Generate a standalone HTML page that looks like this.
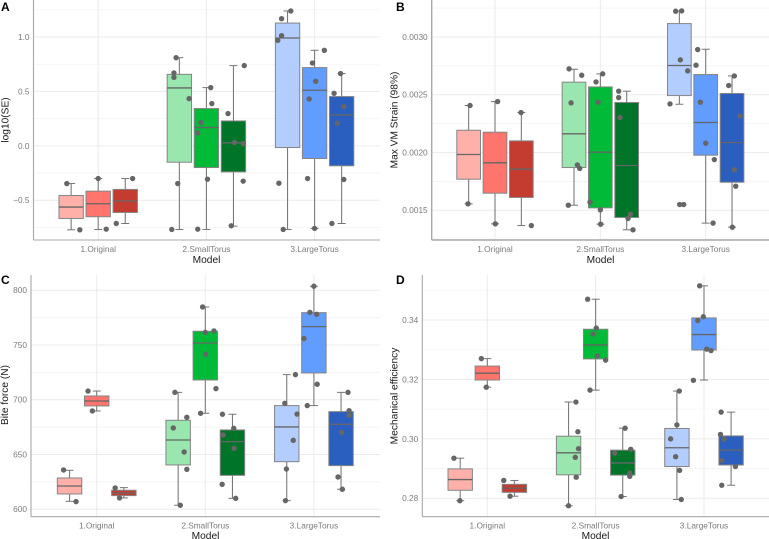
<!DOCTYPE html>
<html lang="en">
<head>
<meta charset="utf-8">
<title>Boxplots by model</title>
<style>
html,body{margin:0;padding:0;background:#fff;width:769px;height:539px;overflow:hidden}
svg{display:block;filter:blur(.3px);font-family:"Liberation Sans",sans-serif}
.tick{font-size:8.3px;fill:#7a7a7a}
.title{font-size:10.2px;fill:#1a1a1a}
.tag{font-size:12px;font-weight:bold;fill:#000}
</style>
</head>
<body>
<svg id="fig" width="769" height="539" viewBox="0 0 769 539" xmlns="http://www.w3.org/2000/svg">
  <g id="panel-a">
    <text class="tag" x="1" y="11">A</text>
    <text class="title" text-anchor="middle" transform="translate(8.5,120) rotate(-90)">log10(SE)</text>
    <text class="title" x="206.5" y="263" text-anchor="middle">Model</text>
  </g>
  <g id="panel-b">
    <text class="tag" x="396" y="11">B</text>
    <text class="title" text-anchor="middle" transform="translate(397.5,120) rotate(-90)">Max VM Strain (98%)</text>
    <text class="title" x="600.5" y="263" text-anchor="middle">Model</text>
  </g>
  <g id="panel-c">
    <text class="tag" x="1" y="284">C</text>
    <text class="title" text-anchor="middle" transform="translate(8,395) rotate(-90)">Bite force (N)</text>
    <text class="title" x="205.5" y="539" text-anchor="middle">Model</text>
  </g>
  <g id="panel-d">
    <text class="tag" x="396" y="284">D</text>
    <text class="title" text-anchor="middle" transform="translate(397.5,396) rotate(-90)">Mechanical efficiency</text>
    <text class="title" x="595.5" y="539" text-anchor="middle">Model</text>
  </g>
</svg>
<script>
const categories = ['1.Original', '2.SmallTorus', '3.LargeTorus'];
const fills = ['#FFB0A8', '#FF756D', '#C43C30', '#99E6AE', '#00BA38', '#00752A', '#B3CDFF', '#619CFF', '#2A5EBF'];

/* Panel A: log10(SE) */
const aTicks = [-0.5, 0, 0.5, 1];
const aTickLabels = ['\u22120.5', '0.0', '0.5', '1.0'];
const aLow = [-0.771, -0.768, -0.713, -0.768, -0.768, -0.737, -0.768, -0.758, -0.713];
const aQ1 = [-0.667, -0.651, -0.612, -0.15, -0.199, -0.239, -0.015, -0.116, -0.183];
const aMedian = [-0.562, -0.532, -0.505, 0.532, 0.168, 0.028, 0.991, 0.511, 0.284];
const aQ3 = [-0.456, -0.416, -0.4, 0.657, 0.343, 0.229, 1.128, 0.719, 0.453];
const aHigh = [-0.346, -0.3, -0.3, 0.81, 0.535, 0.737, 1.239, 0.878, 0.664];
const aPoints = [
  [-0.346, -0.771],
  [-0.3, -0.765],
  [-0.3, -0.713],
  [0.81, 0.67, 0.63, 0.434, -0.346, -0.768],
  [0.535, 0.388, 0.214, 0.119, -0.306, -0.765],
  [0.737, 0.297, 0.031, 0.021, -0.324, -0.734],
  [1.239, 1.168, 1.012, 0.969, -0.343, -0.768],
  [0.878, 0.761, 0.593, 0.431, -0.3, -0.758],
  [0.664, 0.483, 0.361, 0.208, -0.309, -0.713]
];
const aJitter = [
  [-0.04, 0.08],
  [0, 0.074],
  [0.068, -0.083],
  [-0.03, -0.05, -0.05, 0.09, -0.015, -0.07],
  [0.04, 0.05, -0.05, -0.08, 0.01, -0.08],
  [0.1, -0.05, 0.01, 0.09, 0.09, -0.02],
  [0.03, -0.055, -0.055, -0.09, -0.08, -0.04],
  [0.09, -0.02, 0.01, -0.05, -0.065, 0],
  [-0.01, -0.07, 0.02, -0.04, 0.02, -0.09]
];

/* Panel B: Max VM Strain (values x 1000) */
const bTicks = [1.5, 2, 2.5, 3];
const bTickLabels = ['0.0015', '0.0020', '0.0025', '0.0030'];
const bLow = [1.556, 1.383, 1.368, 1.544, 1.38, 1.331, 2.418, 1.389, 1.354];
const bQ1 = [1.769, 1.648, 1.611, 1.87, 1.521, 1.438, 2.493, 1.977, 1.743];
const bMedian = [1.983, 1.911, 1.856, 2.162, 2.003, 1.888, 2.753, 2.26, 2.087];
const bQ3 = [2.193, 2.176, 2.101, 2.609, 2.568, 2.433, 3.116, 2.675, 2.511];
const bHigh = [2.407, 2.441, 2.346, 2.721, 2.681, 2.531, 3.226, 2.894, 2.663];
const bPoints = [
  [2.407, 1.556],
  [2.441, 1.383],
  [2.346, 1.368],
  [2.724, 2.669, 2.43, 1.893, 1.862, 1.544],
  [2.681, 2.611, 2.436, 1.57, 1.504, 1.38],
  [2.531, 2.476, 2.303, 1.466, 1.429, 1.331],
  [3.223, 3.226, 2.802, 2.707, 2.421, 1.55, 1.55],
  [2.891, 2.756, 2.436, 2.081, 1.939, 1.389],
  [2.663, 2.58, 2.317, 1.85, 1.709, 1.354]
];
const bJitter = [
  [0.013, -0.006],
  [0.025, 0.003],
  [-0.003, 0.095],
  [-0.047, 0.073, -0.028, 0.032, 0.054, -0.054],
  [0.022, -0.041, -0.022, -0.098, 0, 0.003],
  [-0.076, -0.076, -0.063, 0.035, 0.013, 0.06],
  [-0.035, 0.022, 0.009, 0.079, -0.089, 0.003, 0.041],
  [-0.076, -0.092, -0.051, 0, 0.082, 0.07],
  [0.022, -0.032, 0.076, 0.022, 0.035, 0.003]
];

/* Panel C: Bite force (N) */
const cTicks = [600, 650, 700, 750, 800];
const cTickLabels = ['600', '650', '700', '750', '800'];
const cLow = [607.3, 689.8, 610.4, 603.7, 687.7, 610, 607.9, 694.7, 618.3];
const cQ1 = [614, 694.4, 612.5, 640.5, 718.1, 631, 643.5, 724.5, 639.9];
const cMedian = [621.3, 698.9, 614.9, 663.3, 751.9, 661.8, 675.2, 766.8, 677.6];
const cQ3 = [628.6, 703.5, 617.4, 681.3, 762.6, 672.5, 694.7, 779.6, 689.2];
const cHigh = [635.6, 708, 619.8, 706.8, 784.8, 686.8, 723, 803.7, 706.8];
const cPoints = [
  [635.9, 607],
  [708, 689.8],
  [619.5, 610.4],
  [706.8, 684, 674.3, 652.4, 636.5, 603.7],
  [784.8, 761.6, 762.9, 741.6, 710.2, 687.7],
  [686.8, 674, 667.9, 655.7, 622.8, 610],
  [723, 696.8, 687, 663, 636.8, 607.9],
  [803.7, 779.9, 778.1, 755.9, 714.2, 694.7],
  [706.8, 690.1, 685.8, 670.3, 629.5, 618.3]
];
const cJitter = [
  [-0.055, 0.06],
  [-0.08, -0.04],
  [-0.08, -0.04],
  [-0.03, 0.08, -0.045, 0.055, 0.08, 0.02],
  [-0.025, 0, 0.08, 0.003, 0.098, -0.043],
  [-0.092, 0.012, -0.086, 0.015, -0.095, 0.03],
  [0.08, -0.018, 0.095, 0.06, -0.003, -0.012],
  [0, -0.037, 0.025, -0.092, 0.03, -0.061],
  [0.064, 0.074, 0.074, 0.006, -0.028, 0.012]
];

/* Panel D: Mechanical efficiency */
const dTicks = [0.28, 0.3, 0.32, 0.34];
const dTickLabels = ['0.28', '0.30', '0.32', '0.34'];
const dLow = [0.2792, 0.3174, 0.2807, 0.2775, 0.3164, 0.2806, 0.2796, 0.3198, 0.2844];
const dQ1 = [0.2827, 0.3198, 0.282, 0.2879, 0.3269, 0.2878, 0.2907, 0.3299, 0.2912];
const dMedian = [0.2863, 0.3221, 0.2834, 0.2953, 0.3316, 0.2919, 0.297, 0.3351, 0.2962];
const dQ3 = [0.2899, 0.3245, 0.2847, 0.3009, 0.3369, 0.2962, 0.3035, 0.3407, 0.301];
const dHigh = [0.2935, 0.327, 0.286, 0.3124, 0.347, 0.3036, 0.3161, 0.3515, 0.309];
const dPoints = [
  [0.2935, 0.2792],
  [0.327, 0.3174],
  [0.286, 0.2807],
  [0.3124, 0.3024, 0.2967, 0.2938, 0.2871, 0.2775],
  [0.347, 0.3373, 0.3353, 0.3279, 0.3265, 0.3164],
  [0.3036, 0.2965, 0.2952, 0.2885, 0.2874, 0.2806],
  [0.3161, 0.3047, 0.3, 0.294, 0.2894, 0.2796],
  [0.3515, 0.3411, 0.3398, 0.3302, 0.3297, 0.3197],
  [0.309, 0.3015, 0.2999, 0.2927, 0.2907, 0.2844]
];
const dJitter = [
  [-0.058, -0.003],
  [-0.055, -0.009],
  [-0.098, -0.04],
  [0.068, 0.086, 0.092, 0.062, 0.071, 0],
  [-0.074, 0.006, -0.025, 0.015, 0.092, -0.052],
  [0.022, 0.074, -0.074, 0.065, 0.065, -0.015],
  [0.022, 0, -0.058, -0.012, 0.025, 0.04],
  [-0.04, -0.006, -0.058, 0.025, 0.065, -0.098],
  [-0.092, -0.098, -0.065, -0.086, 0.04, -0.086]
];

const NS = 'http://www.w3.org/2000/svg';

function node(parent, tag, props) {
  const el = document.createElementNS(NS, tag);
  for (const k in props) el.setAttribute(k, props[k]);
  parent.appendChild(el);
  return el;
}

function drawPanel(p) {
  const root = document.getElementById(p.id);
  const yScale = v => p.y0 + (v - p.t0) * (p.y1 - p.y0) / (p.t1 - p.t0);
  const xScale = v => p.xFirst + (v - 1) * p.xStep;
  const step = p.ticks[1] - p.ticks[0];
  const grid = document.createElementNS(NS, 'g');
  
  
  root.insertBefore(grid, root.firstChild);

  for (let m = p.ticks[0] - step / 2; m < p.ticks[p.ticks.length - 1] + step; m += step) {
    const yy = yScale(m);
    if (yy < p.top || yy > p.bottom) continue;
    const ln = node(grid, 'line', {x1: p.left, x2: p.right, y1: yy, y2: yy, stroke: '#f3f3f3', 'stroke-width': 0.8});
    
    
  }
  p.ticks.forEach((t, i) => {
    const yy = yScale(t);
    const ln = node(grid, 'line', {x1: p.left, x2: p.right, y1: yy, y2: yy, stroke: '#ebebeb', 'stroke-width': 1});
    
    
    const lab = node(root, 'text', {class: 'tick', x: p.left - 4, y: yy + 2.9, 'text-anchor': 'end'});
    lab.textContent = p.tickLabels[i];
    
    
  });
  categories.forEach((c, i) => {
    const xx = xScale(i + 1);
    const ln = node(grid, 'line', {x1: xx, x2: xx, y1: p.top, y2: p.bottom, stroke: '#ebebeb', 'stroke-width': 1});
    
    
    const lab = node(root, 'text', {class: 'tick', x: xx, y: p.bottom + 12, 'text-anchor': 'middle'});
    lab.textContent = c;
    
    
  });

  const axisY = node(root, 'line', {x1: p.left, x2: p.left, y1: p.top, y2: p.bottom, stroke: '#a8a8a8', 'stroke-width': p.axisWidth});
  
  
  const axisX = node(root, 'line', {x1: p.left, x2: p.right, y1: p.bottom, y2: p.bottom, stroke: '#a8a8a8', 'stroke-width': p.axisWidth});
  
  

  const halfBox = 0.1125;
  const halfCap = 4;
  fills.forEach((fill, g) => {
    const cat = Math.floor(g / 3) + 1;
    const pos = cat + (g % 3 - 1) * 0.25;
    const cx = xScale(pos);
    const group = node(root, 'g', {});
    
    

    const segs = [[p.high[g], p.q3[g]], [p.q1[g], p.low[g]]];
    segs.forEach(s => {
      const w = node(group, 'line', {x1: cx, x2: cx, y1: yScale(s[0]), y2: yScale(s[1]), stroke: '#757575', 'stroke-width': 1.05});
      
      
    });
    [p.high[g], p.low[g]].forEach(v => {
      const cap = node(group, 'line', {x1: cx - halfCap, x2: cx + halfCap, y1: yScale(v), y2: yScale(v), stroke: '#757575', 'stroke-width': 1});
      
      
    });
    const bx0 = xScale(pos - halfBox);
    const bx1 = xScale(pos + halfBox);
    const box = node(group, 'rect', {
      x: bx0, width: bx1 - bx0,
      y: yScale(p.q3[g]), height: yScale(p.q1[g]) - yScale(p.q3[g]),
      fill: fill, stroke: '#858585', 'stroke-width': 1
    });
    
    
    const med = node(group, 'line', {x1: bx0, x2: bx1, y1: yScale(p.median[g]), y2: yScale(p.median[g]), stroke: '#666', 'stroke-width': 1.3});
    
    
    p.points[g].forEach((v, k) => {
      const dot = node(group, 'circle', {cx: xScale(pos + p.jitter[g][k]), cy: yScale(v), r: 2.7, fill: '#666'});
      
      
    });
  });
}

drawPanel({id: 'panel-a', axisWidth: 1.1, left: 33.5, right: 380, top: 0, bottom: 240, xFirst: 98.2, xStep: 108.2, t0: 1, y0: 37, t1: -0.5, y1: 200.3,
  ticks: aTicks, tickLabels: aTickLabels, low: aLow, q1: aQ1, median: aMedian, q3: aQ3, high: aHigh, points: aPoints, jitter: aJitter});
drawPanel({id: 'panel-b', axisWidth: 1.4, left: 431.7, right: 769, top: 0, bottom: 240, xFirst: 495, xStep: 105.35, t0: 3, y0: 37, t1: 1.5, y1: 210.3,
  ticks: bTicks, tickLabels: bTickLabels, low: bLow, q1: bQ1, median: bMedian, q3: bQ3, high: bHigh, points: bPoints, jitter: bJitter});
drawPanel({id: 'panel-c', axisWidth: 1.1, left: 31, right: 380, top: 275, bottom: 516.7, xFirst: 96.7, xStep: 108.6, t0: 800, y0: 290.3, t1: 600, y1: 509.3,
  ticks: cTicks, tickLabels: cTickLabels, low: cLow, q1: cQ1, median: cMedian, q3: cQ3, high: cHigh, points: cPoints, jitter: cJitter});
drawPanel({id: 'panel-d', axisWidth: 1.1, left: 422.3, right: 769, top: 275, bottom: 516.7, xFirst: 487.3, xStep: 108.35, t0: 0.34, y0: 320, t1: 0.28, y1: 498.3,
  ticks: dTicks, tickLabels: dTickLabels, low: dLow, q1: dQ1, median: dMedian, q3: dQ3, high: dHigh, points: dPoints, jitter: dJitter});
</script>
</body>
</html>
